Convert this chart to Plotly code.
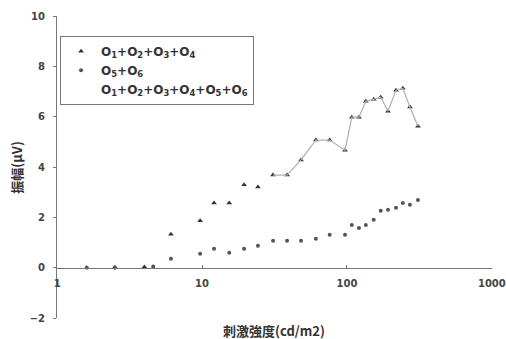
import plotly.graph_objects as go

# Data
x_s1 = [1.6, 2.5, 4.0, 6.1, 9.7, 12.1, 15.4, 19.5, 24.3, 30.9, 38.6, 48.2, 61, 76, 97, 108, 121, 135, 153, 171, 192, 218, 243, 272, 309]
y_s1 = [0.0, 0.02, 0.03, 1.33, 1.86, 2.57, 2.57, 3.29, 3.21, 3.68, 3.68, 4.28, 5.07, 5.07, 4.67, 5.98, 5.98, 6.61, 6.69, 6.77, 6.22, 7.05, 7.13, 6.38, 5.62]

x_s2 = [1.6, 2.5, 4.6, 6.1, 9.7, 12.1, 15.4, 19.5, 24.3, 30.9, 38.6, 48.2, 61, 76, 97, 108, 121, 135, 153, 171, 192, 218, 243, 272, 309]
y_s2 = [0.0, 0.0, 0.05, 0.35, 0.55, 0.75, 0.59, 0.75, 0.87, 1.07, 1.07, 1.07, 1.15, 1.31, 1.31, 1.70, 1.58, 1.70, 1.90, 2.26, 2.30, 2.38, 2.57, 2.50, 2.69]

x_s3 = [30.9, 38.6, 48.2, 61, 76, 97, 108, 121, 135, 153, 171, 192, 218, 243, 272, 309]
y_s3 = [3.68, 3.68, 4.28, 5.07, 5.07, 4.67, 5.98, 5.98, 6.61, 6.69, 6.77, 6.22, 7.05, 7.13, 6.38, 5.62]

names = ["O<sub>1</sub>+O<sub>2</sub>+O<sub>3</sub>+O<sub>4</sub>",
         "O<sub>5</sub>+O<sub>6</sub>",
         "O<sub>1</sub>+O<sub>2</sub>+O<sub>3</sub>+O<sub>4</sub>+O<sub>5</sub>+O<sub>6</sub>"]

x_ticks = [1, 10, 100, 1000]
y_ticks = [-2, 0, 2, 4, 6, 8, 10]

x_title = "刺激強度(cd/m2)"
y_title = "振幅(μV)"

NUM_FONT = "DejaVu Sans, Arial, sans-serif"
JP_FONT = "Noto Sans CJK JP, sans-serif"

fig = go.Figure()
fig.add_trace(go.Scatter(x=x_s1, y=y_s1, mode="markers", name=names[0],
                         marker=dict(symbol="triangle-up", size=5, color="#333333")))
fig.add_trace(go.Scatter(x=x_s2, y=y_s2, mode="markers", name=names[1],
                         marker=dict(symbol="circle", size=4, color="#555555")))
fig.add_trace(go.Scatter(x=x_s3, y=y_s3, mode="lines", name=names[2], showlegend=False,
                         legendgroup="all", line=dict(color="#b0b0b0", width=1.2)))
# legend entry of the line series (drawn without a visible symbol, as in the reference)
fig.add_trace(go.Scatter(x=[None], y=[None], mode="markers", name=names[2],
                         legendgroup="all", marker=dict(size=1, color="rgba(0,0,0,0)")))

fig.update_layout(
    width=506, height=339,
    margin=dict(l=57, r=14, t=16, b=21),
    paper_bgcolor="white", plot_bgcolor="white",
    showlegend=True,
    legend=dict(x=0.007, y=0.935, xanchor="left", yanchor="top",
                bordercolor="#777", borderwidth=1, bgcolor="white",
                font=dict(family=NUM_FONT, size=12, color="#333", weight="bold"),
                tracegroupgap=0, itemwidth=30),
    xaxis=dict(type="log", range=[-0.001, 3.001], tickvals=x_ticks,
               ticktext=[str(v) for v in x_ticks],
               anchor="free", position=2/12, automargin=False,
               showline=True, linecolor="#777", linewidth=1,
               ticks="inside", ticklen=3, tickcolor="#777",
               ticklabelstandoff=6,
               showgrid=False, zeroline=False,
               tickfont=dict(family=NUM_FONT, size=10, color="#444", weight="bold")),
    yaxis=dict(range=[-2, 10], tickvals=y_ticks, domain=[0, 1], automargin=False,
               showline=True, linecolor="#777", linewidth=1,
               ticks="outside", ticklen=3, tickcolor="#777",
               ticklabelstandoff=6,
               showgrid=False, zeroline=False,
               tickfont=dict(family=NUM_FONT, size=10, color="#444", weight="bold")),
    annotations=[
        dict(text=x_title, xref="paper", yref="paper", x=0.499, y=-0.042,
             xanchor="center", yanchor="middle", showarrow=False,
             font=dict(family=JP_FONT, size=13, color="#333", weight="bold")),
        dict(text=y_title, xref="paper", yref="paper", x=-0.095, y=0.5, textangle=-90,
             xanchor="center", yanchor="middle", showarrow=False,
             font=dict(family=JP_FONT, size=13, color="#333", weight="bold")),
    ],
)

fig.write_html("out.html", config={"displayModeBar": False},
               post_script="document.body.style.margin='0';")
